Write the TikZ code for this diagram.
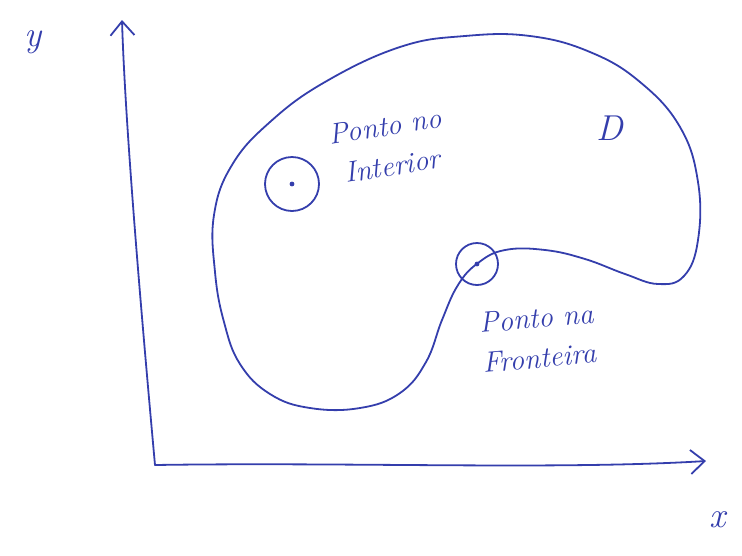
\documentclass[tikz,border=0pt]{standalone}
\usepackage{xcolor}
\usepackage{tikz}
\usetikzlibrary{arrows.meta}
\definecolor{pen}{RGB}{52,62,172}

\begin{document}
\begin{tikzpicture}[x=1pt,y=-1pt,
  every node/.style={text=pen,font=\itshape},
  ink/.style={draw=pen,line width=1.8pt,line cap=round,line join=round},
  axis/.style={ink,-{Straight Barb[length=14pt,width=24pt,line width=1.8pt]}},
  hand/.style={font=\fontsize{29}{40}\selectfont\itshape,inner sep=0pt,align=left},
  big/.style={font=\fontsize{36}{38}\selectfont\itshape,inner sep=0pt}]
 \useasboundingbox (0,0) rectangle (742,555);
 % axes
 \coordinate (o) at (155,465);
 \coordinate (ytip) at (122,20);
 \coordinate (xtip) at (706,461);
 \draw[axis] (o) .. controls (140,300) and (125,120) .. (ytip);
 \draw[axis] (o) .. controls (350,462) and (560,470) .. (xtip);
 \node[big] (ylab) at (33,42) {y};
 \node[big] (xlab) at (718,520) {x};
 % region D
 \draw[ink] plot[smooth cycle,tension=0.7] coordinates {
   (214,215) (232,165) (270,122) (325,82) (400,47) (465,36)
   (530,36) (590,52) (640,82) (680,127) (698,182) (698,240) (684,276)
   (658,284) (625,274) (585,259) (545,250) (505,250) (478,263) (458,285)
   (442,320) (426,362) (400,393) (360,408) (310,408) (270,394) (240,364)
   (224,322) (215,272)};
 \node[big] (dlab) at (610,128) {D};
 % points
 \node[ink,circle,minimum size=54pt,inner sep=0pt] (pint) at (292,184) {};
 \fill[pen] (pint.center) circle (2.4pt);
 \node[ink,circle,minimum size=42pt,inner sep=0pt] (pfr) at (477,264) {};
 \fill[pen] (pfr.center) circle (2.4pt);
 % labels
 \node[hand,rotate=9] (lint) at (388,146) {Ponto no\\\ Interior};
 \node[hand,rotate=5] (lfr) at (538,338) {Ponto na\\Fronteira};
\end{tikzpicture}
\end{document}
